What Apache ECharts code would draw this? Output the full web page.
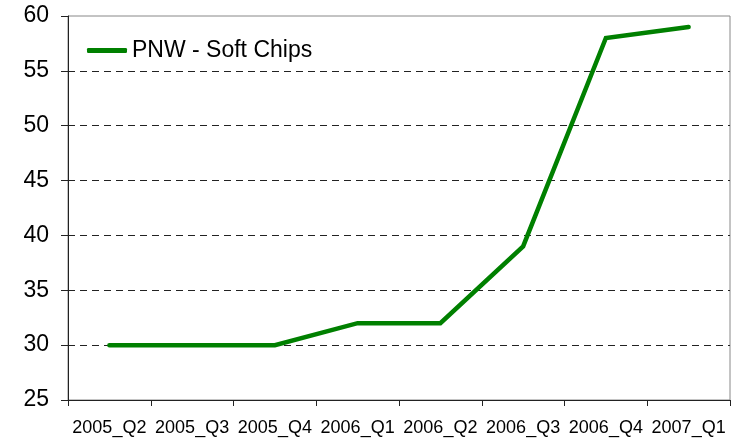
<!DOCTYPE html>
<html>
<head>
<meta charset="utf-8">
<script src="https://cdn.jsdelivr.net/npm/echarts@6/dist/echarts.min.js"></script>
<style>html,body{margin:0;padding:0;background:#fff}#c{width:735px;height:438px}</style>
</head>
<body>
<div id="c"></div>
<script>
const categories = ['2005_Q2','2005_Q3','2005_Q4','2006_Q1','2006_Q2','2006_Q3','2006_Q4','2007_Q1'];
const seriesName = 'PNW - Soft Chips';
const values = [30, 30, 30, 32, 32, 39, 58, 59];
const yMin = 25, yMax = 60, yStep = 5;

const chart = echarts.init(document.getElementById('c'), null, {renderer: 'canvas'});
chart.setOption({
  animation: false,
  backgroundColor: '#ffffff',
  textStyle: {fontFamily: 'Liberation Sans, Arial, sans-serif'},
  grid: {left: 68, right: 5, top: 16, bottom: 38, show: true, borderColor: '#888888', borderWidth: 1, backgroundColor: 'transparent'},
  legend: {
    show: true, left: 82, top: 34, itemWidth: 40, itemHeight: 5, itemGap: 4,
    textStyle: {fontSize: 23, color: '#000', fontFamily: 'Liberation Sans, Arial, sans-serif'},
    data: [{name: seriesName, icon: 'roundRect', itemStyle: {color: '#008000'}}],
    itemStyle: {borderWidth: 0}
  },
  xAxis: {
    type: 'category', data: categories, boundaryGap: true,
    axisLine: {lineStyle: {color: '#222', width: 1}},
    axisTick: {show: true, length: 6, alignWithLabel: false, lineStyle: {color: '#222'}},
    axisLabel: {fontSize: 18, color: '#000', margin: 19, interval: 0}
  },
  yAxis: {
    type: 'value', min: yMin, max: yMax, interval: yStep,
    axisLine: {show: true, lineStyle: {color: '#222', width: 1}},
    axisTick: {show: true, length: 7, lineStyle: {color: '#222'}},
    axisLabel: {fontSize: 23, color: '#000', margin: 19},
    splitLine: {show: true, showMinLine: false, showMaxLine: false, lineStyle: {color: '#222', type: [7, 5], width: 1}}
  },
  series: [{
    name: seriesName, type: 'line', data: values,
    symbol: 'none', lineStyle: {color: '#008000', width: 4.5, cap: 'round', join: 'miter'},
    itemStyle: {color: '#008000'}
  }]
});
</script>
</body>
</html>
